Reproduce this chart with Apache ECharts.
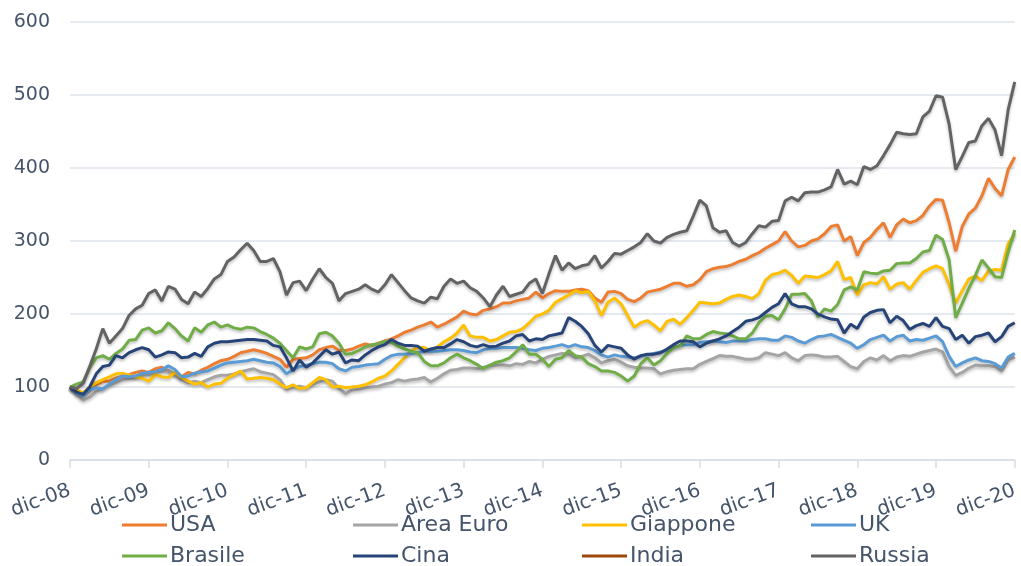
<!DOCTYPE html>
<html>
<head>
<meta charset="utf-8">
<script src="https://cdn.jsdelivr.net/npm/echarts@6/dist/echarts.min.js"></script>
<style>
  html, body { margin: 0; padding: 0; background: #fff; }
  #chart { width: 1021px; height: 566px; }
</style>
</head>
<body>
<div id="chart"></div>
<script>
  // mesi da dic-08 a dic-20
  const monthNames = ['gen', 'feb', 'mar', 'apr', 'mag', 'giu', 'lug', 'ago', 'set', 'ott', 'nov', 'dic'];
  const years = ['08', '09', '10', '11', '12', '13', '14', '15', '16', '17', '18', '19', '20'];
  const yTicks = [0, 100, 200, 300, 400, 500, 600];

  const usa = [
    100, 94, 88, 95, 103, 108, 108, 112, 115, 117, 120, 122, 120, 125, 127, 122, 118, 114, 120, 118, 123, 127, 132, 136,
    138, 142, 147, 149, 151, 149, 146, 142, 138, 127, 138, 139, 140, 144, 151, 154, 156, 150, 150, 152, 156, 159, 157, 160,
    163, 166, 170, 175, 178, 182, 185, 189, 182, 186, 191, 196, 204, 200, 199, 205, 207, 210, 215, 215, 218, 220, 222, 230,
    222, 228, 232, 231, 231, 233, 234, 232, 222, 216, 230, 231, 228, 220, 217, 222, 230, 232, 234, 238, 242, 242, 238, 240,
    247, 258, 262, 264, 265, 268, 272, 275, 280, 284, 290, 295, 300, 313, 300, 292, 294, 300, 303, 310, 320, 322, 300, 306,
    280, 298, 305, 316, 325, 305, 322, 330, 325, 328, 335, 348, 357, 356, 325, 286, 320, 337, 345, 362, 386, 372, 362, 398, 415
  ];
  const areaEuro = [
    100, 90, 82, 86, 94, 98, 103, 106, 110, 112, 114, 116, 117, 120, 122, 123, 117, 110, 106, 108, 106, 110, 114, 116,
    116, 118, 121, 123, 125, 121, 119, 117, 110, 97, 100, 101, 99, 104, 107, 110, 108, 98, 91, 96, 97, 99, 100, 101,
    104, 106, 110, 108, 110, 111, 113, 107, 112, 118, 123, 124, 126, 126, 125, 127, 129, 130, 130, 129, 132, 131, 135, 133,
    138, 142, 144, 146, 145, 140, 142, 145, 140, 133, 136, 138, 134, 129, 127, 126, 126, 125, 118, 121, 123, 124, 125, 125,
    131, 135, 139, 143, 142, 142, 140, 138, 138, 140, 147, 145, 143, 147, 140, 136, 143, 144, 143, 141, 141, 142, 135, 128,
    125, 135, 140, 137, 143, 136, 141, 143, 142, 145, 148, 150, 152, 148, 128, 116, 120, 126, 130, 129, 129, 128, 122, 137, 141
  ];
  const giappone = [
    100, 96, 92, 100, 106, 110, 114, 118, 119, 116, 114, 112, 108, 117, 114, 113, 120, 113, 108, 104, 106, 100, 104, 105,
    112, 117, 122, 111, 112, 113, 112, 110, 104, 99, 103, 98, 99, 106, 113, 110, 100, 101, 99, 100, 101, 103, 107, 112,
    115, 122, 131, 140, 150, 154, 154, 150, 155, 162, 167, 174, 185, 170, 168, 168, 163, 165, 170, 175, 176, 180, 188, 197,
    200, 205, 216, 221, 226, 232, 229, 231, 218, 198, 216, 222, 214, 198, 182, 188, 191, 185, 177, 190, 193, 186, 195, 205,
    216, 215, 214, 215, 220, 224, 226, 224, 221, 228, 246, 254, 256, 260, 253, 242, 252, 251, 250, 254, 259, 272, 247, 250,
    226, 240, 243, 241, 251, 234, 241, 243, 234, 246, 257, 262, 266, 262, 240, 215, 232, 248, 252, 246, 259, 261, 260, 296, 310
  ];
  const uk = [
    100, 92, 88, 96, 99, 97, 104, 110, 115, 114, 115, 119, 120, 121, 124, 129, 124, 114, 115, 119, 121, 122, 126, 130,
    133, 134, 135, 136, 138, 136, 134, 133, 128, 118, 124, 128, 130, 132, 134, 134, 132, 125, 122, 127, 128, 130, 131, 132,
    138, 143, 145, 145, 146, 147, 149, 149, 149, 150, 151, 151, 150, 148, 147, 151, 153, 153, 154, 154, 154, 153, 151, 150,
    153, 154, 156, 158, 155, 158, 155, 154, 150, 144, 141, 144, 142, 141, 140, 142, 144, 146, 148, 150, 154, 157, 158, 158,
    161, 162, 163, 162, 161, 163, 163, 163, 165, 166, 166, 164, 164, 170, 168, 163, 160, 165, 169, 170, 172, 168, 164, 160,
    153, 158, 165, 168, 171, 163, 169, 171, 163, 165, 164, 167, 170, 162, 142, 128, 133, 137, 140, 136, 135, 132, 126, 141, 146
  ];
  const brasile = [
    100, 104, 107, 126, 140, 143, 138, 146, 152, 164, 165, 178, 181, 174, 177, 188, 180, 170, 163, 181, 175, 185, 189, 182,
    185, 181, 179, 182, 181, 176, 172, 167, 160, 150, 140, 155, 152, 155, 173, 175, 170, 160, 145, 146, 150, 155, 158, 159,
    163, 161, 156, 152, 149, 147, 135, 129, 129, 133, 140, 145, 140, 136, 131, 125, 130, 134, 136, 140, 148, 158, 145, 145,
    138, 128, 138, 140, 150, 143, 141, 132, 128, 122, 122, 120, 115, 108, 115, 132, 140, 130, 136, 146, 154, 156, 170, 166,
    166, 172, 176, 174, 173, 170, 166, 166, 174, 188, 197, 198, 192, 207, 227, 227, 228, 218, 196, 207, 204, 213, 233, 237,
    233, 258, 256, 255, 259, 260, 269, 270, 270, 276, 285, 287, 308, 302, 274, 195, 215, 235, 253, 274, 263, 251, 250, 285, 315
  ];
  const cina = [
    100, 93, 90, 100, 118, 128, 130, 143, 140, 147, 151, 154, 151, 141, 144, 148, 147, 140, 141, 146, 142, 155, 160, 162,
    162, 163, 164, 165, 165, 164, 163, 157, 155, 140, 122, 137, 127, 133, 142, 151, 145, 148, 133, 137, 136, 144, 150, 155,
    158, 165, 160, 157, 157, 156, 149, 152, 154, 154, 159, 165, 162, 157, 155, 158, 155, 156, 160, 163, 170, 172, 163, 166,
    165, 170, 172, 174, 195, 190, 183, 173, 157, 148, 157, 155, 153, 144, 138, 143, 145, 145, 147, 152, 158, 163, 163, 162,
    155, 160, 163, 166, 170, 176, 182, 190, 192, 195, 202, 209, 214, 228, 214, 210, 210, 207, 200, 196, 193, 192, 174, 186,
    180, 196, 202, 205, 206, 188, 197, 191, 179, 184, 187, 183, 195, 183, 180, 165, 171, 160, 169, 171, 174, 162, 169, 183, 188
  ];
  const india = [];
  const russia = [
    100, 98, 105, 128, 152, 180, 160, 170, 180, 198, 207, 212, 228, 233, 218, 238, 234, 220, 214, 230, 224, 235, 248, 254,
    272, 278, 288, 297, 287, 272, 272, 276, 258, 226, 243, 245, 232, 248, 262, 250, 242, 218, 228, 231, 234, 240, 234, 230,
    240, 254, 243, 232, 222, 218, 215, 223, 221, 238, 248, 242, 245, 236, 231, 222, 210, 226, 238, 224, 227, 230, 242, 248,
    228, 255, 280, 260, 270, 262, 266, 268, 280, 263, 272, 283, 282, 287, 292, 298, 310, 300, 297, 305, 309, 312, 314, 334,
    356, 348, 318, 312, 314, 298, 293, 298, 310, 321, 319, 327, 328, 355, 360, 355, 366, 367, 367, 370, 374, 398, 378, 382,
    377, 402, 398, 403, 417, 432, 449, 447, 446, 447, 470, 478, 499, 497, 460, 398, 416, 435, 437, 458, 468, 452, 417, 480, 518
  ];

  const seriesNames = ['USA', 'Area Euro', 'Giappone', 'UK', 'Brasile', 'Cina', 'India', 'Russia'];
  const seriesData = [usa, areaEuro, giappone, uk, brasile, cina, india, russia];
  const colors = ['#ED7D31', '#A5A5A5', '#FFC000', '#5B9BD5', '#70AD47', '#264478', '#9E480E', '#636363'];

  const categories = ['dic-' + years[0]];
  years.slice(1).forEach(y => monthNames.forEach(m => categories.push(m + '-' + y)));

  const textColor = '#44546A';
  const font = 'DejaVu Sans';

  const legendLeft = [122, 353, 582, 811];
  const legendTop = [514, 545];
  const legends = seriesNames.map((name, i) => ({
    left: legendLeft[i % 4],
    top: legendTop[Math.floor(i / 4)],
    data: [name],
    icon: 'rect',
    itemWidth: 45,
    itemHeight: 3,
    itemGap: 0,
    padding: 0,
    selectedMode: false,
    textStyle: { color: textColor, fontFamily: font, fontSize: 22, lineHeight: 22, padding: [0, 0, 0, -2] }
  }));

  const chart = echarts.init(document.getElementById('chart'), null, { renderer: 'canvas' });
  chart.setOption({
    animation: false,
    color: colors,
    grid: { left: 70, right: 4, top: 22, bottom: 106, containLabel: false },
    legend: legends,
    xAxis: {
      type: 'category',
      boundaryGap: false,
      data: categories,
      axisLine: { show: true, lineStyle: { color: '#D9DEE6', width: 1.5 } },
      axisTick: { show: true, interval: 11, length: 8, lineStyle: { color: '#D9DEE6', width: 1.5 } },
      axisLabel: {
        interval: 11,
        rotate: 20,
        margin: 30,
        color: textColor,
        fontFamily: font,
        fontSize: 20
      },
      splitLine: { show: false }
    },
    yAxis: {
      type: 'value',
      min: yTicks[0],
      max: yTicks[yTicks.length - 1],
      interval: yTicks[1] - yTicks[0],
      axisLine: { show: false },
      axisTick: { show: false },
      axisLabel: { color: textColor, fontFamily: font, fontSize: 19, margin: 20 },
      splitLine: { lineStyle: { color: '#DDE3EC', width: 1.5 } }
    },
    series: seriesNames.map((name, i) => ({
      name: name,
      type: 'line',
      data: seriesData[i],
      symbol: 'none',
      showSymbol: false,
      lineStyle: {
        width: 3,
        color: colors[i],
        shadowColor: 'rgba(0,0,0,0.25)',
        shadowBlur: 3,
        shadowOffsetY: 2
      },
      emphasis: { disabled: true }
    }))
  });
</script>
</body>
</html>
